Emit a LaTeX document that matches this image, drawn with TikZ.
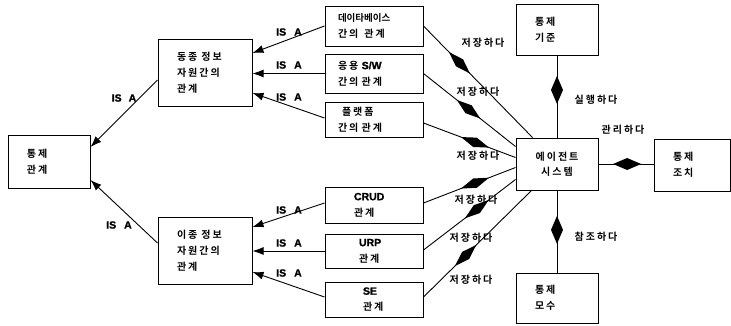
\documentclass[tikz,border=0pt]{standalone}
\usepackage{fontspec}
\setmainfont{Liberation Sans}
\newfontfamily\kr[LetterSpace=20]{Noto Sans CJK KR Bold}
\newfontfamily\krn{Noto Sans CJK KR Bold}
\newfontfamily\lat[FakeBold=1.2]{Liberation Sans}
\usetikzlibrary{arrows.meta,decorations.markings,calc}
\tikzset{
  box/.style={draw, line width=1pt, font=\kr\fontsize{10}{16}\selectfont, align=left, inner ysep=0pt},
  cbox/.style={draw, line width=1pt, font=\kr\fontsize{10}{15}\selectfont, align=center, inner ysep=0pt},
  conn/.style={line width=0.9pt},
  isa/.style={conn, -{Latex[length=11pt,width=8pt]}},
  lbl/.style={font=\kr\fontsize{10}{12}\selectfont, inner sep=0pt},
  isal/.style={font=\lat\bfseries\fontsize{10.5}{12}\selectfont, inner sep=0pt},
  sdia/.style={conn, postaction={decorate, decoration={markings,
      mark=at position #1 with {\fill (-15pt,0pt) -- (0pt,5pt) -- (15pt,0pt) -- (0pt,-5pt) -- cycle;}}}},
  bdia/.style={conn, postaction={decorate, decoration={markings,
      mark=at position #1 with {\fill (-14pt,0pt) -- (0pt,6pt) -- (14pt,0pt) -- (0pt,-6pt) -- cycle;}}}}
}
\newcommand{\lw}[1]{{\lat\bfseries\fontsize{10.5}{16}\selectfont #1}}
\begin{document}
\begin{tikzpicture}[x=1pt,y=-1pt]
\fill[white] (0,0) rectangle (731,325);
\useasboundingbox (0,0) rectangle (731,325);

% nodes
\node[box, text width=44pt, inner xsep=19pt, minimum height=53pt] (ctrl) at (49,161.5) {통제\\관계};
\node[box, text width=56pt, inner xsep=19pt, minimum height=67pt] (homo) at (205,72.5) {동종\hspace{4pt}정보\\자원간의\\관계};
\node[box, text width=56pt, inner xsep=19pt, minimum height=67pt] (hetero) at (205,250.5) {이종\hspace{4pt}정보\\자원간의\\관계};

\node[box, text width=72pt, inner xsep=13pt, minimum height=40pt] (db) at (374,26) {{\krn\fontsize{9.5}{16}\selectfont 데이타베이스}\\간의\hspace{6pt}관계};
\node[box, text width=72pt, inner xsep=13pt, minimum height=39pt] (sw) at (374,73.5) {응용 \lw{S/W}\\간의 관계};
\node[box, text width=72pt, inner xsep=13pt, minimum height=35pt] (plat) at (374,119.5) {\hspace*{4pt}플랫폼\\간의 관계};
\node[box, text width=40pt, inner xsep=29pt, minimum height=36pt] (crud) at (374,205) {\lw{CRUD}\\관계};
\node[box, text width=30pt, inner xsep=34pt, minimum height=34pt] (urp) at (374,251) {\lw{URP}\\관계};
\node[box, text width=22pt, inner xsep=38pt, minimum height=35pt] (se) at (374,299.5) {\lw{SE}\\관계};

\node[cbox, minimum width=82pt, minimum height=52pt] (agent) at (557,164) {에이전트\\시스템};
\node[box, text width=44pt, inner xsep=19pt, minimum height=51pt] (std) at (557,29.5) {통제\\기준};
\node[box, text width=44pt, inner xsep=19pt, minimum height=50pt] (param) at (557,298) {통제\\모수};
\node[box, text width=38pt, inner xsep=19pt, minimum height=52pt] (act) at (692,165) {통제\\조치};

% IS A arrows
\draw[isa] ([yshift=-7.5pt]homo.west) -- ([yshift=14.5pt]ctrl.east);
\draw[isa] ([yshift=7.5pt]hetero.west) -- ([yshift=-18.5pt]ctrl.east);
\draw[isa] (db.west) -- ([yshift=19.5pt]homo.east);
\draw[isa] (sw.west) -- (sw.west -| homo.east);
\draw[isa] ([yshift=1.5pt]plat.west) -- ([yshift=-20.5pt]homo.east);
\draw[isa] ([yshift=2pt]crud.west) -- ([yshift=23.5pt]hetero.east);
\draw[isa] (urp.west) -- (urp.west -| hetero.east);
\draw[isa] ([yshift=2.5pt]se.west) -- ([yshift=-21.5pt]hetero.east);

\node[isal] (i0) at (124,98) {IS\hspace{7pt}A};
\node[isal] (i00) at (119,225) {IS\hspace{8pt}A};
\node[isal] (i1) at (289,32) {IS\hspace{8pt}A};
\node[isal] (i2) at (289,65) {IS\hspace{8pt}A};
\node[isal] (i3) at (289,97) {IS\hspace{8pt}A};
\node[isal] (i4) at (289,210) {IS\hspace{8pt}A};
\node[isal] (i5) at (289,243) {IS\hspace{8pt}A};
\node[isal] (i6) at (289,273) {IS\hspace{8pt}A};

% aggregation relations
\draw[sdia=0.33] (db.east) -- ([xshift=17pt]agent.north west);
\draw[sdia=0.49] (sw.east) -- ([yshift=-9pt]agent.north west);
\draw[sdia=0.56] ([yshift=-3.5pt]plat.east) -- ([yshift=-20pt]agent.north west);
\draw[sdia=0.56] ([yshift=2pt]crud.east) -- ([yshift=-30pt]agent.north west);
\draw[sdia=0.58] ([yshift=1pt]urp.east) -- ([yshift=-42pt]agent.north west);
\draw[sdia=0.39] ([yshift=2.5pt]se.east) -- ([xshift=16pt]agent.south west);

\draw[bdia=0.42] (std.south) -- (agent.north);
\draw[bdia=0.48] (agent.south) -- (param.north);
\draw[bdia=0.52] (agent.east) -- (agent.east -| act.west);

\node[lbl] (s1) at (483,43) {저장하다};
\node[lbl] (s2) at (478,92) {저장하다};
\node[lbl] (s3) at (478,156) {저장하다};
\node[lbl] (s4) at (476,200) {저장하다};
\node[lbl] (s5) at (471,238) {저장하다};
\node[lbl] (s6) at (471,280) {저장하다};
\node[lbl] (l1) at (596,100) {실행하다};
\node[lbl] (l2) at (596,237) {참조하다};
\node[lbl] (l3) at (623,130) {관리하다};
\end{tikzpicture}
\end{document}
